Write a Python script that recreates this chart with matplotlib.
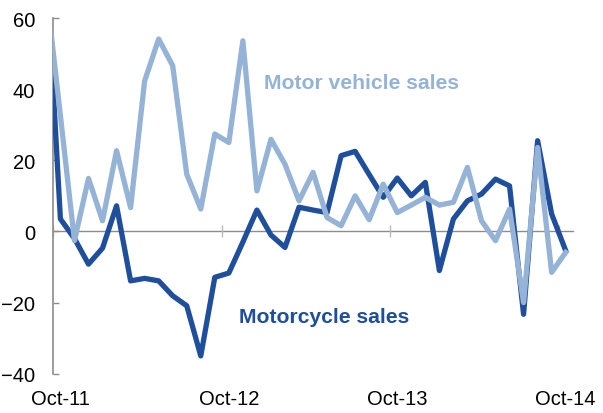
import numpy as np
import matplotlib
matplotlib.use("Agg")
import matplotlib.pyplot as plt

plt.rcParams['font.family'] = ['Liberation Sans', 'DejaVu Sans']

# year-on-year growth (%), monthly from Sep-11 to Oct-14
motorcycle = [74.5, 3.5, -2, -9.2, -4.7, 7.2, -13.9, -13.2, -13.9, -18.1, -20.9,
              -35, -12.9, -11.7, -3, 6, -1, -4.5, 6.8, 6, 5.3, 21.3, 22.5, 16,
              9.6, 15, 10, 13.8, -11, 3.5, 8.6, 10.5, 14.7, 12.8, -23.3, 25.5,
              4.9, -5.4]
motor_vehicle = [67.5, 32.5, -2.6, 14.9, 3, 22.7, 6.7, 42.3, 54.1, 46.6, 16.1,
                 6.3, 27.4, 25, 53.6, 11.4, 25.9, 18.9, 8.6, 16.6, 3.9, 1.6, 10,
                 3.3, 13.3, 5.3, 7.4, 9.6, 7.4, 8.2, 18, 3, -2.6, 6.3, -20,
                 23.6, -11.5, -5.9]
tick_labels = ['Oct-11', 'Oct-12', 'Oct-13', 'Oct-14']
y_ticks = [-40, -20, 0, 20, 40, 60]

dark = '#1F4F9C'
light = '#95B3D7'
grey = '#8C8C8C'

# one slot per month, points sit in the middle of their slot (Sep-11 falls off the left edge)
x = np.arange(len(motorcycle)) - 0.5

fig = plt.figure(figsize=(6.03, 4.14), dpi=100)
ax = fig.add_axes([53.4 / 603, 39.3 / 414, (572.7 - 53.4) / 603, (374.7 - 19) / 414])

ax.plot(x, motorcycle, color=dark, lw=3.8, solid_joinstyle='round', zorder=3)
ax.plot(x, motor_vehicle, color=light, lw=3.8, solid_joinstyle='round', zorder=4)

ax.set_xlim(0, 37)
ax.set_ylim(-40, 60)

for s in ['top', 'right']:
    ax.spines[s].set_visible(False)
ax.spines['left'].set_color(grey)
ax.spines['left'].set_linewidth(1.2)
ax.spines['bottom'].set_position(('data', 0))
ax.spines['bottom'].set_color(grey)
ax.spines['bottom'].set_linewidth(1.0)
ax.spines['bottom'].set_zorder(1)

ax.set_yticks(y_ticks)
ax.tick_params(axis='y', direction='in', length=4, width=1, color=grey,
               labelsize=14.5, pad=13)

ax.set_xticks([0, 12, 24, 36])
ax.tick_params(axis='x', direction='inout', length=9, width=1, color='#BBBBBB',
               labelbottom=False)

# month labels along the bottom edge, centred on their data point
lab = ax.secondary_xaxis('bottom')
lab.set_xticks([0.5, 12.5, 24.5, 36.5])
lab.set_xticklabels(tick_labels)
lab.spines['bottom'].set_visible(False)
lab.tick_params(length=0, labelsize=14.5, pad=11)

ax.text(15, 42, 'Motor vehicle sales', color=light, fontsize=15.2, fontweight='bold',
        va='center', ha='left')
ax.text(13.2, -24, 'Motorcycle sales', color=dark, fontsize=15.2, fontweight='bold',
        va='center', ha='left')

fig.savefig('out.png', dpi=100)
